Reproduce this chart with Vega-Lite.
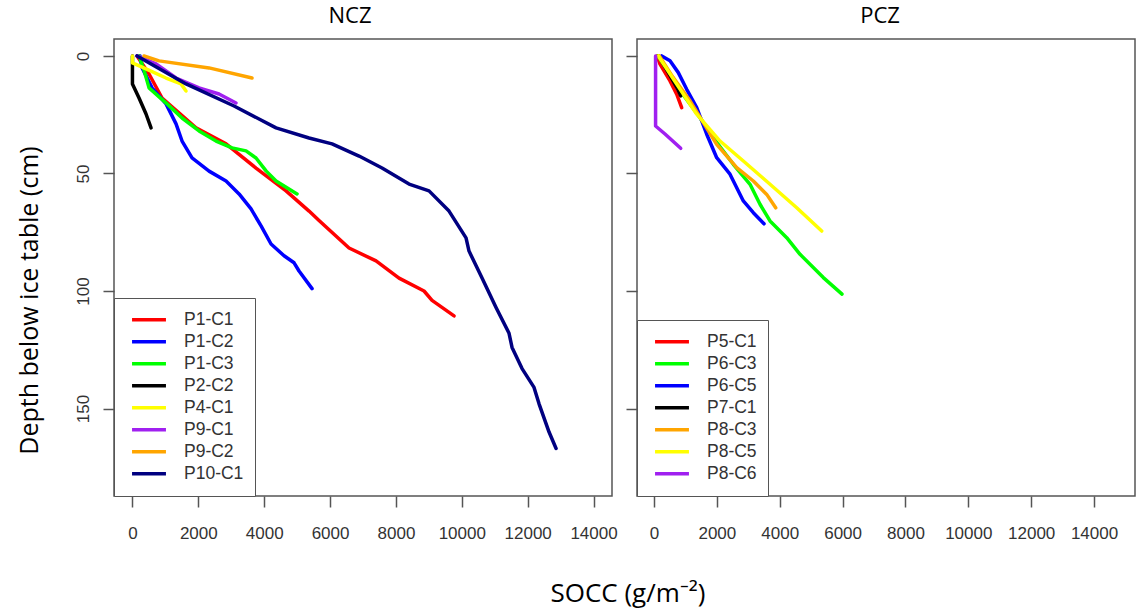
{
  "$schema": "https://vega.github.io/schema/vega-lite/v6.json",
  "padding": {"left": 16, "top": 4, "right": 5, "bottom": 5},
  "bounds": "flush",
  "spacing": 25,
  "background": "white",
  "title": {"text": "SOCC (g/m⁻²)", "orient": "bottom", "anchor": "middle", "frame": "group", "font": "Open Sans", "fontSize": 26, "fontWeight": "normal", "color": "black", "offset": 39, "dx": 514, "baseline": "top"},
  "datasets": {
    "ncz": [
      {"core": "P1-C1", "i": 0, "socc": 140, "depth": 0},
      {"core": "P1-C1", "i": 1, "socc": 504, "depth": 7.7},
      {"core": "P1-C1", "i": 2, "socc": 899, "depth": 17.9},
      {"core": "P1-C1", "i": 3, "socc": 1930, "depth": 30.6},
      {"core": "P1-C1", "i": 4, "socc": 2842, "depth": 37.4},
      {"core": "P1-C1", "i": 5, "socc": 3752, "depth": 47.7},
      {"core": "P1-C1", "i": 6, "socc": 4663, "depth": 57.4},
      {"core": "P1-C1", "i": 7, "socc": 5362, "depth": 66},
      {"core": "P1-C1", "i": 8, "socc": 5665, "depth": 70},
      {"core": "P1-C1", "i": 9, "socc": 6576, "depth": 81.7},
      {"core": "P1-C1", "i": 10, "socc": 7396, "depth": 87.2},
      {"core": "P1-C1", "i": 11, "socc": 8094, "depth": 94.5},
      {"core": "P1-C1", "i": 12, "socc": 8853, "depth": 100},
      {"core": "P1-C1", "i": 13, "socc": 9096, "depth": 104},
      {"core": "P1-C1", "i": 14, "socc": 9764, "depth": 110.6},
      {"core": "P1-C2", "i": 0, "socc": 230, "depth": 0},
      {"core": "P1-C2", "i": 1, "socc": 291, "depth": 5},
      {"core": "P1-C2", "i": 2, "socc": 595, "depth": 13.6},
      {"core": "P1-C2", "i": 3, "socc": 1020, "depth": 20.4},
      {"core": "P1-C2", "i": 4, "socc": 1324, "depth": 28.9},
      {"core": "P1-C2", "i": 5, "socc": 1506, "depth": 36.2},
      {"core": "P1-C2", "i": 6, "socc": 1809, "depth": 43.4},
      {"core": "P1-C2", "i": 7, "socc": 2326, "depth": 49},
      {"core": "P1-C2", "i": 8, "socc": 2842, "depth": 53.2},
      {"core": "P1-C2", "i": 9, "socc": 3237, "depth": 58.7},
      {"core": "P1-C2", "i": 10, "socc": 3601, "depth": 65.1},
      {"core": "P1-C2", "i": 11, "socc": 3905, "depth": 72.3},
      {"core": "P1-C2", "i": 12, "socc": 4208, "depth": 80},
      {"core": "P1-C2", "i": 13, "socc": 4603, "depth": 85},
      {"core": "P1-C2", "i": 14, "socc": 4907, "depth": 88},
      {"core": "P1-C2", "i": 15, "socc": 5058, "depth": 91.5},
      {"core": "P1-C2", "i": 16, "socc": 5453, "depth": 99},
      {"core": "P1-C3", "i": 0, "socc": 200, "depth": 0},
      {"core": "P1-C3", "i": 1, "socc": 350, "depth": 6},
      {"core": "P1-C3", "i": 2, "socc": 504, "depth": 13.6},
      {"core": "P1-C3", "i": 3, "socc": 1050, "depth": 20.4},
      {"core": "P1-C3", "i": 4, "socc": 1506, "depth": 26.4},
      {"core": "P1-C3", "i": 5, "socc": 2022, "depth": 31.9},
      {"core": "P1-C3", "i": 6, "socc": 2538, "depth": 36.2},
      {"core": "P1-C3", "i": 7, "socc": 3024, "depth": 39.1},
      {"core": "P1-C3", "i": 8, "socc": 3449, "depth": 40.4},
      {"core": "P1-C3", "i": 9, "socc": 3752, "depth": 43.4},
      {"core": "P1-C3", "i": 10, "socc": 4056, "depth": 48.9},
      {"core": "P1-C3", "i": 11, "socc": 4360, "depth": 53.2},
      {"core": "P1-C3", "i": 12, "socc": 4997, "depth": 58.7},
      {"core": "P2-C2", "i": 0, "socc": 0, "depth": 0},
      {"core": "P2-C2", "i": 1, "socc": 0, "depth": 11.9},
      {"core": "P2-C2", "i": 2, "socc": 200, "depth": 17.9},
      {"core": "P2-C2", "i": 3, "socc": 413, "depth": 24.7},
      {"core": "P2-C2", "i": 4, "socc": 565, "depth": 30.6},
      {"core": "P4-C1", "i": 0, "socc": 0, "depth": 0},
      {"core": "P4-C1", "i": 1, "socc": 0, "depth": 3},
      {"core": "P4-C1", "i": 2, "socc": 413, "depth": 5.5},
      {"core": "P4-C1", "i": 3, "socc": 1020, "depth": 9.4},
      {"core": "P4-C1", "i": 4, "socc": 1475, "depth": 11.9},
      {"core": "P4-C1", "i": 5, "socc": 1627, "depth": 14.9},
      {"core": "P9-C1", "i": 0, "socc": 140, "depth": 0},
      {"core": "P9-C1", "i": 1, "socc": 717, "depth": 3.4},
      {"core": "P9-C1", "i": 2, "socc": 1324, "depth": 9.4},
      {"core": "P9-C1", "i": 3, "socc": 2022, "depth": 13.6},
      {"core": "P9-C1", "i": 4, "socc": 2629, "depth": 16.2},
      {"core": "P9-C1", "i": 5, "socc": 3145, "depth": 20},
      {"core": "P9-C2", "i": 0, "socc": 350, "depth": 0},
      {"core": "P9-C2", "i": 1, "socc": 808, "depth": 2.1},
      {"core": "P9-C2", "i": 2, "socc": 2326, "depth": 5.1},
      {"core": "P9-C2", "i": 3, "socc": 3631, "depth": 9.4},
      {"core": "P10-C1", "i": 0, "socc": 140, "depth": 0},
      {"core": "P10-C1", "i": 1, "socc": 1627, "depth": 11.9},
      {"core": "P10-C1", "i": 2, "socc": 3085, "depth": 21.3},
      {"core": "P10-C1", "i": 3, "socc": 4360, "depth": 30.6},
      {"core": "P10-C1", "i": 4, "socc": 5362, "depth": 34.9},
      {"core": "P10-C1", "i": 5, "socc": 6060, "depth": 37.4},
      {"core": "P10-C1", "i": 6, "socc": 6880, "depth": 42.6},
      {"core": "P10-C1", "i": 7, "socc": 7578, "depth": 47.7},
      {"core": "P10-C1", "i": 8, "socc": 8398, "depth": 54.5},
      {"core": "P10-C1", "i": 9, "socc": 9005, "depth": 57.4},
      {"core": "P10-C1", "i": 10, "socc": 9612, "depth": 66},
      {"core": "P10-C1", "i": 11, "socc": 10128, "depth": 77.4},
      {"core": "P10-C1", "i": 12, "socc": 10219, "depth": 83},
      {"core": "P10-C1", "i": 13, "socc": 10614, "depth": 94.5},
      {"core": "P10-C1", "i": 14, "socc": 11039, "depth": 107},
      {"core": "P10-C1", "i": 15, "socc": 11434, "depth": 118},
      {"core": "P10-C1", "i": 16, "socc": 11525, "depth": 124},
      {"core": "P10-C1", "i": 17, "socc": 11829, "depth": 133},
      {"core": "P10-C1", "i": 18, "socc": 12193, "depth": 141},
      {"core": "P10-C1", "i": 19, "socc": 12345, "depth": 148},
      {"core": "P10-C1", "i": 20, "socc": 12649, "depth": 160},
      {"core": "P10-C1", "i": 21, "socc": 12862, "depth": 167}
    ],
    "pcz": [
      {"core": "P5-C1", "i": 0, "socc": 100, "depth": 0},
      {"core": "P5-C1", "i": 1, "socc": 191, "depth": 3.5},
      {"core": "P5-C1", "i": 2, "socc": 509, "depth": 10.6},
      {"core": "P5-C1", "i": 3, "socc": 722, "depth": 16.3},
      {"core": "P5-C1", "i": 4, "socc": 881, "depth": 22},
      {"core": "P6-C3", "i": 0, "socc": 127, "depth": 0},
      {"core": "P6-C3", "i": 1, "socc": 445, "depth": 6.4},
      {"core": "P6-C3", "i": 2, "socc": 955, "depth": 17},
      {"core": "P6-C3", "i": 3, "socc": 1464, "depth": 26.3},
      {"core": "P6-C3", "i": 4, "socc": 1887, "depth": 34.8},
      {"core": "P6-C3", "i": 5, "socc": 2523, "depth": 46.1},
      {"core": "P6-C3", "i": 6, "socc": 3055, "depth": 54.6},
      {"core": "P6-C3", "i": 7, "socc": 3373, "depth": 63.1},
      {"core": "P6-C3", "i": 8, "socc": 3691, "depth": 70.2},
      {"core": "P6-C3", "i": 9, "socc": 4222, "depth": 77.3},
      {"core": "P6-C3", "i": 10, "socc": 4646, "depth": 84.4},
      {"core": "P6-C3", "i": 11, "socc": 5387, "depth": 94.3},
      {"core": "P6-C3", "i": 12, "socc": 5982, "depth": 101.3},
      {"core": "P6-C5", "i": 0, "socc": 245, "depth": 0},
      {"core": "P6-C5", "i": 1, "socc": 509, "depth": 2.1},
      {"core": "P6-C5", "i": 2, "socc": 773, "depth": 7.1},
      {"core": "P6-C5", "i": 3, "socc": 1040, "depth": 14.2},
      {"core": "P6-C5", "i": 4, "socc": 1359, "depth": 22},
      {"core": "P6-C5", "i": 5, "socc": 1677, "depth": 33.3},
      {"core": "P6-C5", "i": 6, "socc": 1995, "depth": 43.3},
      {"core": "P6-C5", "i": 7, "socc": 2418, "depth": 50.3},
      {"core": "P6-C5", "i": 8, "socc": 2842, "depth": 61.7},
      {"core": "P6-C5", "i": 9, "socc": 3160, "depth": 66.7},
      {"core": "P6-C5", "i": 10, "socc": 3500, "depth": 71.4},
      {"core": "P7-C1", "i": 0, "socc": 150, "depth": 0},
      {"core": "P7-C1", "i": 1, "socc": 450, "depth": 7},
      {"core": "P7-C1", "i": 2, "socc": 750, "depth": 14},
      {"core": "P7-C1", "i": 3, "socc": 850, "depth": 17},
      {"core": "P8-C3", "i": 0, "socc": 169, "depth": 0},
      {"core": "P8-C3", "i": 1, "socc": 600, "depth": 9},
      {"core": "P8-C3", "i": 2, "socc": 1146, "depth": 19.1},
      {"core": "P8-C3", "i": 3, "socc": 1995, "depth": 37.6},
      {"core": "P8-C3", "i": 4, "socc": 2632, "depth": 47.5},
      {"core": "P8-C3", "i": 5, "socc": 3160, "depth": 53.2},
      {"core": "P8-C3", "i": 6, "socc": 3586, "depth": 58.9},
      {"core": "P8-C3", "i": 7, "socc": 3872, "depth": 64.6},
      {"core": "P8-C5", "i": 0, "socc": 137, "depth": 0},
      {"core": "P8-C5", "i": 1, "socc": 722, "depth": 12},
      {"core": "P8-C5", "i": 2, "socc": 1359, "depth": 24.8},
      {"core": "P8-C5", "i": 3, "socc": 2100, "depth": 36.2},
      {"core": "P8-C5", "i": 4, "socc": 2842, "depth": 44.7},
      {"core": "P8-C5", "i": 5, "socc": 3691, "depth": 54.6},
      {"core": "P8-C5", "i": 6, "socc": 4541, "depth": 64.6},
      {"core": "P8-C5", "i": 7, "socc": 5336, "depth": 74.5},
      {"core": "P8-C6", "i": 0, "socc": 50, "depth": 0},
      {"core": "P8-C6", "i": 1, "socc": 50, "depth": 29.8},
      {"core": "P8-C6", "i": 2, "socc": 350, "depth": 33.2},
      {"core": "P8-C6", "i": 3, "socc": 850, "depth": 39.3}
    ]
  },
  "hconcat": [
    {
      "width": 498,
      "height": 457,
      "title": {"text": "NCZ", "dx": -13},
      "data": {"name": "ncz"},
      "mark": {"type": "line", "strokeWidth": 3.5, "strokeCap": "round", "strokeJoin": "round"},
      "encoding": {
        "x": {"field": "socc", "type": "quantitative", "scale": {"domain": [-560, 14560], "nice": false, "zero": false},
              "axis": {"values": [0, 2000, 4000, 6000, 8000, 10000, 12000, 14000], "title": null, "format": "d", "labelPadding": 18, "labelFlush": false}},
        "y": {"field": "depth", "type": "quantitative", "scale": {"domain": [-7.2, 187.2], "nice": false, "zero": false, "reverse": true},
              "axis": {"values": [0, 50, 100, 150], "title": "Depth below ice table (cm)", "labelAngle": -90, "labelAlign": "center", "labelBaseline": "bottom", "labelPadding": 11, "titlePadding": 32, "titleY": 261, "titleFont": "Open Sans", "titleFontSize": 25, "titleFontWeight": "normal", "titleColor": "black"}},
        "color": {"field": "core", "type": "nominal",
                  "scale": {"domain": ["P1-C1", "P1-C2", "P1-C3", "P2-C2", "P4-C1", "P9-C1", "P9-C2", "P10-C1"],
                            "range": ["#FF0000", "#0000FF", "#00FF00", "#000000", "#FFFF00", "#A020F0", "#FFA500", "#000080"]},
                  "legend": {"title": null}},
        "order": {"field": "i", "type": "quantitative"}
      }
    },
    {
      "width": 498,
      "height": 457,
      "title": {"text": "PCZ", "dx": -6},
      "data": {"name": "pcz"},
      "mark": {"type": "line", "strokeWidth": 3.5, "strokeCap": "round", "strokeJoin": "round"},
      "encoding": {
        "x": {"field": "socc", "type": "quantitative", "scale": {"domain": [-541, 15304], "nice": false, "zero": false},
              "axis": {"values": [0, 2000, 4000, 6000, 8000, 10000, 12000, 14000], "title": null, "format": "d", "labelPadding": 18, "labelFlush": false}},
        "y": {"field": "depth", "type": "quantitative", "scale": {"domain": [-7.2, 187.2], "nice": false, "zero": false, "reverse": true},
              "axis": {"values": [0, 50, 100, 150], "title": null, "labels": false}},
        "color": {"field": "core", "type": "nominal",
                  "scale": {"domain": ["P5-C1", "P6-C3", "P6-C5", "P7-C1", "P8-C3", "P8-C5", "P8-C6"],
                            "range": ["#FF0000", "#00FF00", "#0000FF", "#000000", "#FFA500", "#FFFF00", "#A020F0"]},
                  "legend": {"title": null}},
        "order": {"field": "i", "type": "quantitative"}
      }
    }
  ],
  "resolve": {"scale": {"color": "independent", "x": "independent", "y": "independent"}, "legend": {"color": "independent"}},
  "config": {
    "font": "Liberation Sans",
    "view": {"stroke": "#555555", "strokeWidth": 1.5},
    "axis": {"domain": false, "grid": false, "tickColor": "#555555", "tickWidth": 1.5, "tickSize": 11,
             "labelFont": "Liberation Sans", "labelFontSize": 17, "labelColor": "#333333"},
    "legend": {"orient": "bottom-left", "offset": 0, "strokeColor": "#555555", "fillColor": "white", "padding": 11,
               "symbolType": "stroke", "symbolStrokeWidth": 3.5, "symbolSize": 1150, "symbolOffset": 5,
               "labelFont": "Liberation Sans", "labelFontSize": 17.5, "labelColor": "#333333", "labelOffset": 16,
               "rowPadding": 0, "clipHeight": 21.7},
    "title": {"font": "Open Sans", "fontSize": 22, "fontWeight": "normal", "color": "black", "offset": 11, "baseline": "alphabetic"}
  }
}
